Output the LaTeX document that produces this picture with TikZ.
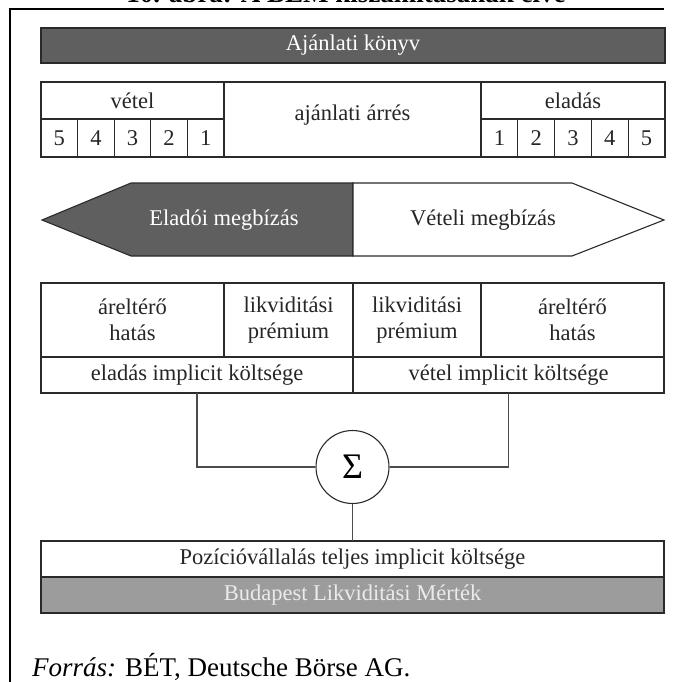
\documentclass[tikz,border=0pt]{standalone}
\usepackage{fontspec}
\setmainfont{Liberation Serif}
\definecolor{darkfill}{HTML}{5F5F5F}
\definecolor{lightfill}{HTML}{9C9C9C}
\definecolor{edge}{HTML}{2A2A2A}
\tikzset{
  cell/.style={draw=edge, line width=1.1pt, rectangle, inner sep=0pt, outer sep=0pt,
    align=center, font=\fontsize{22.5}{26}\selectfont, text=black!85},
  darkcell/.style={cell, fill=darkfill, text=white},
  lightcell/.style={cell, fill=lightfill, text=white!92!black},
  conn/.style={draw=black!70, line width=1.1pt},
  frameline/.style={draw=black, line width=2.5pt}
}
\begin{document}
\begin{tikzpicture}[x=1pt,y=-1pt]
\useasboundingbox (0,0) rectangle (672,682);
\clip (0,0) rectangle (672,682);
\fill[white] (0,0) rectangle (672,682);
% frame
\draw[frameline] (10,700) -- (10,9) -- (664,9);
\node[anchor=base, font=\fontsize{27}{30}\selectfont\bfseries, inner sep=0pt] (title) at (346,3) {10. ábra: A BLM kiszámításának elve};
% order book header
\node[darkcell, minimum width=624, minimum height=35] (konyv) at (353,45.5) {Ajánlati könyv};
% buy side
\node[cell, minimum width=183, minimum height=37] (vetel) at (132.5,100.5) {vétel};
\node[cell, minimum width=36.6, minimum height=38] (b5) at (59.3,138) {5};
\node[cell, minimum width=36.6, minimum height=38] (b4) at (95.9,138) {4};
\node[cell, minimum width=36.6, minimum height=38] (b3) at (132.5,138) {3};
\node[cell, minimum width=36.6, minimum height=38] (b2) at (169.1,138) {2};
\node[cell, minimum width=36.6, minimum height=38] (b1) at (205.7,138) {1};
% spread
\node[cell, minimum width=257, minimum height=75] (arres) at (352.5,119.5) {};
\node[font=\fontsize{22.5}{26}\selectfont, text=black!85, inner sep=0pt] (arrestxt) at (352.5,115) {ajánlati árrés};
% sell side
\node[cell, minimum width=184, minimum height=37] (eladas) at (573,100.5) {eladás};
\node[cell, minimum width=36.8, minimum height=38] (s1) at (499.4,138) {1};
\node[cell, minimum width=36.8, minimum height=38] (s2) at (536.2,138) {2};
\node[cell, minimum width=36.8, minimum height=38] (s3) at (573,138) {3};
\node[cell, minimum width=36.8, minimum height=38] (s4) at (609.8,138) {4};
\node[cell, minimum width=36.8, minimum height=38] (s5) at (646.6,138) {5};
% arrow
\filldraw[fill=darkfill, draw=edge, line width=1.1pt] (42,220) -- (131,183) -- (353,183) -- (353,256) -- (131,256) -- cycle;
\filldraw[fill=white, draw=edge, line width=1.1pt] (353,183) -- (572,183) -- (664,220) -- (572,256) -- (353,256) -- cycle;
\node[font=\fontsize{22.5}{26}\selectfont, text=white, inner sep=0pt] (elado) at (224,220) {Eladói megbízás};
\node[font=\fontsize{22.5}{26}\selectfont, text=black!85, inner sep=0pt] (veteli) at (483,220) {Vételi megbízás};
% cost table
\node[cell, minimum width=183, minimum height=74] (arl) at (132.5,320) {áreltérő\\hatás};
\node[cell, minimum width=129, minimum height=74] (likl) at (288.5,320) {likviditási\\prémium};
\node[cell, minimum width=128, minimum height=74] (likr) at (417,320) {likviditási\\prémium};
\node[cell, minimum width=183, minimum height=74] (arr) at (572.5,320) {áreltérő\\hatás};
\node[cell, minimum width=312, minimum height=36] (elimp) at (197,375) {eladás implicit költsége};
\node[cell, minimum width=311, minimum height=36] (veimp) at (508.5,375) {vétel implicit költsége};
% sum
\node[draw=edge, line width=1.1pt, circle, minimum size=73, inner sep=0pt, font=\fontsize{36}{40}\selectfont] (sigma) at (352.5,467) {Σ};
\draw[conn] (elimp.south) |- (sigma.west);
\draw[conn] (veimp.south) |- (sigma.east);
% total
\node[cell, minimum width=623, minimum height=36] (pozi) at (352.5,559) {Pozícióvállalás teljes implicit költsége};
\node[lightcell, minimum width=623, minimum height=36] (blm) at (352.5,595) {Budapest Likviditási Mérték};
\draw[conn] (sigma.south) -- (pozi.north);
% source
\node[anchor=base west, font=\fontsize{27}{30}\selectfont, inner sep=0pt] (forras) at (32,676) {\textit{Forrás:} BÉT, Deutsche Börse AG.};
\end{tikzpicture}
\end{document}
